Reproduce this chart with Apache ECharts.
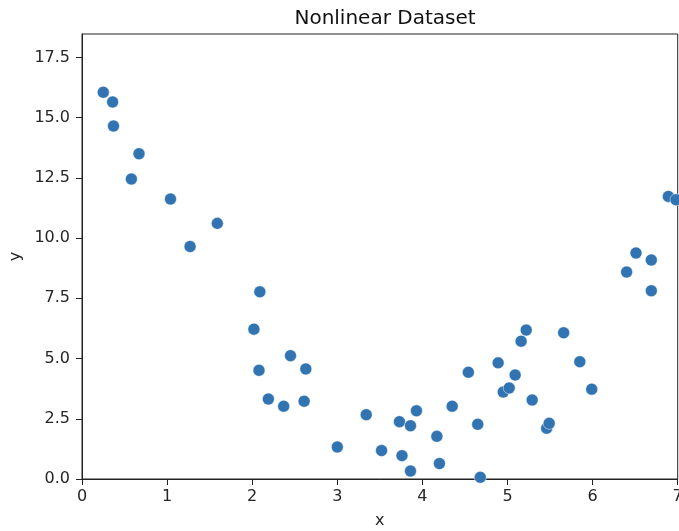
<!DOCTYPE html>
<html>
<head>
<meta charset="utf-8">
<script src="https://cdn.jsdelivr.net/npm/echarts@6/dist/echarts.min.js"></script>
<style>html,body{margin:0;padding:0;background:#fff}#c{width:679px;height:531px}</style>
</head>
<body>
<div id="c"></div>
<script>
var title = 'Nonlinear Dataset';
var xName = 'x';
var yName = 'y';
var xs = [0.25, 0.36, 0.37, 0.67, 0.58, 1.04, 1.27, 1.59,
          2.09, 2.02, 2.45, 2.08, 2.63, 2.19, 2.37, 2.61, 3.00,
          3.34, 3.52, 3.73, 3.86, 3.93, 3.76, 3.86, 4.17, 4.20, 4.35, 4.54, 4.65, 4.68,
          4.89, 4.95, 5.02, 5.09, 5.16, 5.22, 5.29, 5.46, 5.49, 5.66, 5.85, 5.99,
          6.40, 6.51, 6.69, 6.69, 6.89, 6.98];
var ys = [16.05, 15.65, 14.65, 13.50, 12.45, 11.62, 9.65, 10.61,
          7.77, 6.22, 5.12, 4.51, 4.57, 3.32, 3.02, 3.23, 1.33,
          2.67, 1.18, 2.38, 2.21, 2.83, 0.97, 0.33, 1.77, 0.64, 3.02, 4.43, 2.27, 0.07,
          4.82, 3.61, 3.78, 4.32, 5.72, 6.18, 3.28, 2.11, 2.31, 6.07, 4.87, 3.73,
          8.59, 9.38, 9.09, 7.81, 11.73, 11.59];
var xTicks = [0, 1, 2, 3, 4, 5, 6, 7];
var yTicks = [0, 2.5, 5, 7.5, 10, 12.5, 15, 17.5];
var xMin = 0, xMax = 7, yMin = 0, yMax = 18.47;

var pts = xs.map(function (x, i) { return [x, ys[i]]; });
var txt = '#262626';
var font = 'DejaVu Sans';
var chart = echarts.init(document.getElementById('c'), null, {renderer: 'canvas'});
chart.setOption({
  animation: false,
  backgroundColor: '#fff',
  title: {
    text: title, left: 380, top: 4, textAlign: 'center',
    textStyle: {fontFamily: font, fontSize: 20, fontWeight: 'normal', color: '#111'}
  },
  grid: {left: 82, right: 1.3, top: 34, bottom: 52, outerBoundsMode: 'none', containLabel: false,
    show: true, borderColor: '#222', borderWidth: 1, backgroundColor: 'transparent'},
  xAxis: {
    type: 'value', min: xMin, max: xMax, interval: 1,
    name: xName, nameLocation: 'middle', nameGap: 34,
    nameTextStyle: {fontFamily: font, fontSize: 16, color: txt},
    axisLine: {show: true, onZero: false, lineStyle: {color: '#222', width: 1}},
    axisTick: {show: true, length: 6, lineStyle: {color: '#222'}, customValues: xTicks},
    axisLabel: {fontFamily: font, fontSize: 16, color: txt, margin: 10, customValues: xTicks,
      hideOverlap: false, formatter: function (v) { return String(v); }},
    splitLine: {show: false}
  },
  yAxis: {
    type: 'value', min: yMin, max: yMax,
    name: yName, nameLocation: 'middle', nameGap: 58, nameRotate: 90,
    nameTextStyle: {fontFamily: font, fontSize: 16, color: txt},
    axisLine: {show: true, onZero: false, lineStyle: {color: '#222', width: 1}},
    axisTick: {show: true, length: 6, lineStyle: {color: '#222'}, customValues: yTicks},
    axisLabel: {fontFamily: font, fontSize: 16, color: txt, margin: 12, customValues: yTicks,
      formatter: function (v) { return v.toFixed(1); }},
    splitLine: {show: false}
  },
  series: [{
    type: 'scatter',
    data: pts,
    symbolSize: 12,
    clip: true,
    itemStyle: {color: '#3274b2', borderColor: 'rgba(255,255,255,0.6)', borderWidth: 0.8, opacity: 1}
  }]
});
</script>
</body>
</html>
